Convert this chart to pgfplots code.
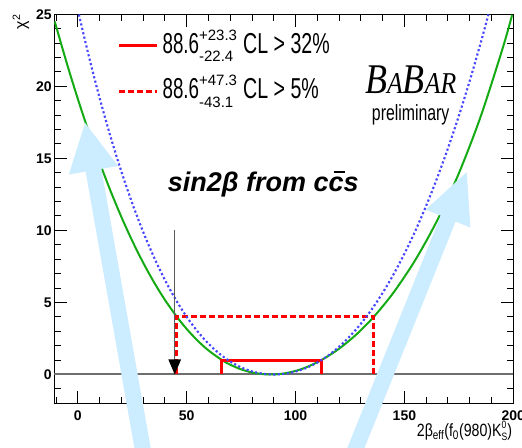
\documentclass[border=0pt]{standalone}
\usepackage{pgfplots}
\pgfplotsset{compat=1.18}
\usepackage{fontspec}
\setmainfont{Liberation Sans}
\newfontfamily\timesfont{Liberation Serif}
\usepackage{graphicx}
\usetikzlibrary{calc,arrows.meta}

\definecolor{chigreen}{RGB}{20,170,20}
\definecolor{chiblue}{RGB}{70,70,255}
\definecolor{overlayblue}{RGB}{204,236,255}
\definecolor{zerogray}{RGB}{110,110,110}
\definecolor{arrowgray}{RGB}{90,90,90}

% asymmetric error: stacked superscript / subscript
\newcommand\supsub[2]{{\fontsize{11.25pt}{12pt}\selectfont\rlap{\raisebox{10pt}{#1}}\rlap{\raisebox{-6.3pt}{#2}}\phantom{#1}}}
\newcommand\cltext[3]{\scalebox{0.65}[1]{\fontsize{21.6pt}{24pt}\selectfont 88.6}\supsub{#1}{#2}\hspace{4.6pt}\scalebox{0.68}[1]{\fontsize{21.6pt}{24pt}\selectfont CL > #3\%}}

\begin{document}
\begin{tikzpicture}
\begin{axis}[
  name=ax,
  scale only axis,
  width=344.25pt, height=291.75pt,
  xmin=-10.8, xmax=200, ymin=-2, ymax=25,
  xtick={0,50,...,200}, ytick={0,5,...,25},
  minor xtick={-10,0,...,200}, minor ytick={-2,-1,...,25},
  tick align=inside,
  major tick length=9.5pt, minor tick length=5pt,
  every tick/.style={black, line width=0.75pt},
  axis line style={line width=1.1pt},
  /pgf/number format/assume math mode=true,
  tick label style={font=\fontsize{10.5pt}{12pt}\selectfont\bfseries},
  xticklabel style={yshift=-2.3pt},
  yticklabel style={xshift=1.5pt},
  clip=false,
  legend style={draw=none, fill=none, at={(axis cs:18.0,24.05)}, anchor=north west,
    inner sep=0pt, row sep=8pt,
    nodes={inner xsep=2.78pt, inner ysep=1pt, text depth=}},
  legend cell align=left,
  legend image code/.code={\draw[#1] (0pt,0pt) -- (29pt,0pt);},
]
% chi^2 = 0 reference line
\addplot[zerogray, line width=1.5pt, forget plot] coordinates {(-10.8,0) (200,0)};

% chi^2 scan
\addplot[chigreen, line width=1.5pt, smooth, forget plot] coordinates {
  (-10.6,24.5) (-5,21.574) (0,19.131) (5,16.848) (10,14.721) (15,12.751)
  (20,10.937) (25,9.274) (30,7.763) (35,6.398) (40,5.179) (45.5,4.0)
  (50,3.158) (55,2.350) (60,1.671) (66.2,1.0) (70,0.679) (75,0.355)
  (80,0.139) (85,0.024) (88.6,0) (92,0.0225) (95,0.079) (100,0.247)
  (105,0.504) (111.9,1.0) (120,1.789) (128,2.789) (135.9,4.0) (145,5.688)
  (155,7.944) (165,10.678) (175,13.964) (185,17.896) (195,22.582) (199.5,24.97)
};

% confidence intervals
\addplot[red, line width=2.25pt] coordinates {(66.2,0) (66.2,1) (111.9,1) (111.9,0)};
\addlegendentry{\cltext{+23.3}{-22.4}{32}}
\addplot[red, line width=2.25pt, dash pattern=on 4.5pt off 2.25pt] coordinates {(45.5,0) (45.5,4) (135.9,4) (135.9,0)};
\addlegendentry{\cltext{+47.3}{-43.1}{5}}

% overlay arrows
\addplot[draw=none, fill=overlayblue, forget plot] coordinates {
  (3.35,17.46) (18.50,14.47) (10.79,14.27) (35.12,-6.51) (27.87,-6.71) (3.58,14.08) (-4.13,13.88)
} -- cycle;
\addplot[draw=none, fill=overlayblue, forget plot] coordinates {
  (178.6,14.04) (180.3,10.20) (173.5,10.61) (127.1,-6.82) (120.3,-6.40) (166.7,11.03) (159.8,11.44)
} -- cycle;

% second scan
\addplot[chiblue, line width=1.6pt, dash pattern=on 1.6pt off 1.8pt, smooth, forget plot] coordinates {
  (0.5,24.98) (5,22.13) (10,19.2) (15,16.52) (20,14.09) (25,11.88) (30,9.9)
  (35,8.13) (40,6.5625) (45,5.19) (50,4.0) (55,2.986) (60,2.1375) (65,1.445)
  (70,0.9) (75,0.492) (80,0.2125) (85,0.0516) (90,0) (95,0.0495) (100,0.2013)
  (105,0.46) (110,0.830) (115,1.317) (120,1.925) (125,2.659) (130,3.523)
  (135,4.523) (140,5.663) (145,6.947) (150,8.381) (155,9.969) (160,11.716)
  (165,13.627) (170,15.706) (175,17.958) (180,20.388) (185,23.0) (188.6,25.0)
};

% lower limit marker
\draw[arrowgray, line width=0.9pt, -{Triangle[width=9.3pt,length=11.25pt,color=black]}]
  (axis cs:44.5,10) -- (axis cs:44.5,0);
\end{axis}

\begin{scope}[shift={($(ax.north west)+(-40.725pt,10.725pt)$)}, x=0.75pt, y=-0.75pt]
  \node[anchor=base west, inner sep=0pt] at (365,93.3)
    {\scalebox{0.85}[1]{\timesfont\itshape\fontsize{31.7pt}{34pt}\selectfont B\fontsize{22.7pt}{24pt}\selectfont A\fontsize{31.7pt}{34pt}\selectfont B\fontsize{22.7pt}{24pt}\selectfont AR}};
  \node[anchor=base west, inner sep=0pt] at (371.7,121)
    {\scalebox{0.72}[1]{\fontsize{16.5pt}{18pt}\selectfont preliminary}};
  \node[anchor=base, inner sep=0pt] at (263.3,191.7)
    {\fontsize{20.25pt}{22pt}\selectfont\bfseries\itshape sin2β from cc\llap{\rule[0.7em]{0.43em}{0.075em}\hspace{-0.06em}}s};
  \node[anchor=base east, inner sep=0pt] at (512.3,436.7)
    {\scalebox{0.8}[1]{\fontsize{13.3pt}{15pt}\selectfont 2β\textsubscript{eff}(f\textsubscript{0}(980)K\rlap{\raisebox{6pt}{\fontsize{8pt}{9pt}\selectfont 0}}\raisebox{-3pt}{\fontsize{8pt}{9pt}\selectfont S})}};
  \node[rotate=90, anchor=east, inner sep=0pt] at (21,14)
    {\fontsize{12pt}{14pt}\selectfont χ\textsuperscript{2}};
\end{scope}

\pgfresetboundingbox
\path[use as bounding box] ($(ax.north west)+(-40.725pt,10.725pt)$) rectangle ++(391.5pt,-336pt);
\end{tikzpicture}
\end{document}
